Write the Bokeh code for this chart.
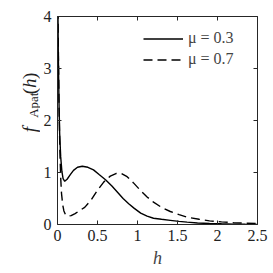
from bokeh.plotting import figure
from bokeh.models import Range1d, FixedTicker, LinearAxis, Legend, LegendItem, Label
from bokeh.layouts import row
from bokeh.embed import file_html
from bokeh.resources import INLINE
import math

# ---- data ----
h_mu03 = [0.004, 0.01, 0.018, 0.027, 0.04, 0.055, 0.07, 0.09, 0.12, 0.16, 0.2, 0.25, 0.31,
          0.38, 0.45, 0.52, 0.6, 0.68, 0.75, 0.82, 0.89, 0.96, 1.04, 1.12, 1.2, 1.3, 1.41,
          1.52, 1.62, 1.75, 1.9, 2.05, 2.2, 2.35, 2.5]
f_mu03 = [4.4, 3.3, 2.4, 1.75, 1.3, 1.02, 0.88, 0.83, 0.87, 0.96, 1.04, 1.1, 1.12,
          1.1, 1.05, 0.96, 0.86, 0.74, 0.62, 0.50, 0.40, 0.31, 0.22, 0.16, 0.12, 0.1, 0.08,
          0.06, 0.045, 0.03, 0.02, 0.013, 0.008, 0.005, 0.003]

h_mu07 = [0.004, 0.012, 0.02, 0.03, 0.04, 0.05, 0.065, 0.08, 0.1, 0.13, 0.17, 0.22, 0.28,
          0.34, 0.42, 0.5, 0.58, 0.66, 0.73, 0.8, 0.87, 0.95, 1.04, 1.12, 1.2, 1.3, 1.41,
          1.52, 1.62, 1.77, 1.9, 2.05, 2.2, 2.35, 2.5]
f_mu07 = [4.4, 3.2, 2.2, 1.4, 0.9, 0.6, 0.38, 0.26, 0.19, 0.16, 0.17, 0.21, 0.27,
          0.33, 0.47, 0.66, 0.82, 0.93, 0.98, 0.98, 0.92, 0.8, 0.65, 0.53, 0.43, 0.33, 0.25,
          0.19, 0.14, 0.1, 0.07, 0.05, 0.035, 0.025, 0.018]

series_labels = ["μ = 0.3", "μ = 0.7"]
x_ticks = [0, 0.5, 1, 1.5, 2, 2.5]
x_tick_labels = ["0", "0.5", "1", "1.5", "2", "2.5"]
y_ticks = [0, 1, 2, 3, 4]
y_tick_labels = ["0", "1", "2", "3", "4"]

FONT = "Liberation Serif"
AX = "#262626"
TXT = "#222222"

p = figure(width=233, height=273, output_backend="svg", toolbar_location=None,
           x_range=Range1d(0, 2.5), y_range=Range1d(0, 4),
           min_border_left=17, min_border_right=16, min_border_top=16, min_border_bottom=49)
p.outline_line_color = None
p.xgrid.visible = False
p.ygrid.visible = False
p.background_fill_color = "white"

def style_axis(ax, ticks, labels, show_labels=True):
    ax.ticker = FixedTicker(ticks=ticks)
    ax.major_label_overrides = {t: l for t, l in zip(ticks, labels)}
    ax.minor_tick_line_color = None
    ax.major_tick_in = 4
    ax.major_tick_out = 0
    ax.axis_line_color = AX
    ax.major_tick_line_color = AX
    ax.major_label_text_font = FONT
    ax.major_label_text_font_size = "16px"
    ax.major_label_text_color = TXT
    if not show_labels:
        ax.major_label_text_font_size = "0px"
        ax.major_label_text_alpha = 0

style_axis(p.xaxis[0], x_ticks, x_tick_labels)
style_axis(p.yaxis[0], y_ticks, y_tick_labels)
p.xaxis[0].major_label_standoff = 5
p.yaxis[0].major_label_standoff = 6
p.xaxis[0].axis_label = "h"
p.xaxis[0].axis_label_text_font = FONT
p.xaxis[0].axis_label_text_font_style = "italic"
p.xaxis[0].axis_label_text_font_size = "18px"
p.xaxis[0].axis_label_standoff = 4

top = LinearAxis()
style_axis(top, x_ticks, x_tick_labels, show_labels=False)
p.add_layout(top, "above")
right = LinearAxis()
style_axis(right, y_ticks, y_tick_labels, show_labels=False)
p.add_layout(right, "right")

r1 = p.line(h_mu03, f_mu03, line_color="black", line_width=1.4)
r2 = p.line(h_mu07, f_mu07, line_color="black", line_width=1.4, line_dash="9 5")

legend = Legend(items=[LegendItem(label=series_labels[0], renderers=[r1]),
                       LegendItem(label=series_labels[1], renderers=[r2])],
                location=(67, 137), border_line_alpha=0, background_fill_alpha=0,
                glyph_width=40, glyph_height=15, label_height=15, spacing=3,
                label_standoff=5, margin=0, padding=19,
                label_text_font=FONT, label_text_font_size="16px")
p.add_layout(legend)

# narrow panel on the left carrying the rotated y-axis label f_Apat(h)
lab = figure(width=40, height=273, output_backend="svg", toolbar_location=None,
             x_range=Range1d(0, 40), y_range=Range1d(0, 273),
             min_border_left=0, min_border_right=0, min_border_top=0, min_border_bottom=0,
             x_axis_location=None, y_axis_location=None)
lab.outline_line_color = None
lab.xgrid.visible = False
lab.ygrid.visible = False

ylab = [("f", "19px", "italic", 29, 121),
        ("Apat", "13px", "normal", 33, 140),
        ("(", "19px", "normal", 29, 171),
        ("h", "19px", "italic", 29, 179),
        (")", "19px", "normal", 29, 191)]
for txt, sz, st, xx, yy in ylab:
    lab.add_layout(Label(x=xx, y=yy, text=txt, angle=math.pi / 2,
                         text_font=FONT, text_font_size=sz, text_font_style=st,
                         text_align="left", text_baseline="middle", text_color=TXT))

layout = row(lab, p, spacing=0)
open("out.html", "w").write(file_html(layout, INLINE))
